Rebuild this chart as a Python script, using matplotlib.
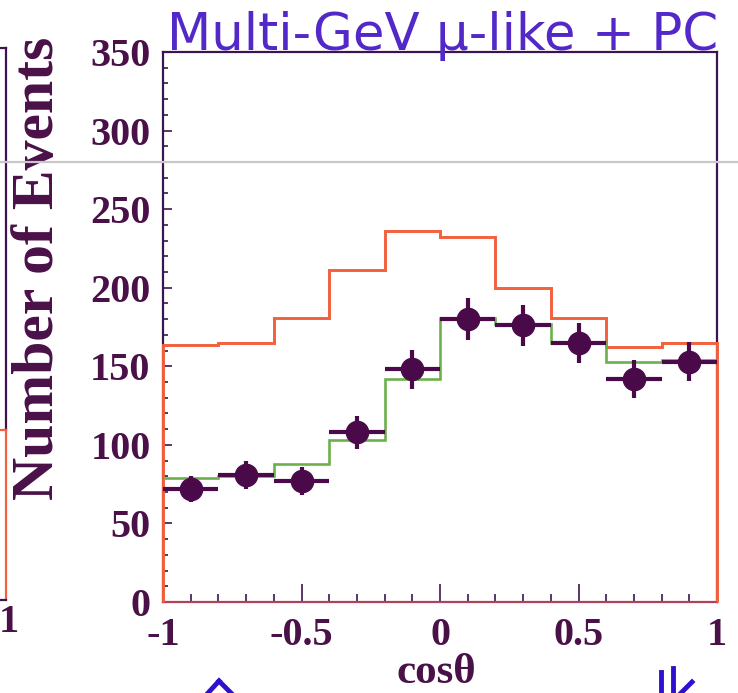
import numpy as np
import matplotlib
matplotlib.use("Agg")
import matplotlib.pyplot as plt
from matplotlib.lines import Line2D
from matplotlib.ticker import MultipleLocator

# zenith angle bins (cos theta) and event counts
edges = np.linspace(-1, 1, 11)
centers = 0.5 * (edges[:-1] + edges[1:])
no_osc = [163.5, 165, 181, 211, 236, 232, 200, 180.5, 162, 165]
best_fit = [79, 80, 88, 103, 142, 181, 177, 165, 153, 154]
data = [72, 81, 77, 108, 148, 180, 176, 165, 142, 153]
yticks = [0, 50, 100, 150, 200, 250, 300, 350]
xticks = [-1, -0.5, 0, 0.5, 1]
xticklabels = ["-1", "-0.5", "0", "0.5", "1"]

W, H = 738, 693
frame = "#3c1450"
txt = "#4a1048"
serif = ["Liberation Serif", "DejaVu Serif"]

fig = plt.figure(figsize=(W / 100, H / 100), dpi=100)
fig.patch.set_facecolor("white")


def px(x, y):
    return x / W, 1 - y / H


l, t = px(163, 52)
r, b = px(717, 602)
ax = fig.add_axes([l, b, r - l, t - b])

ax.stairs(no_osc, edges, baseline=0, color="#f2603c", lw=2.1, zorder=3, clip_on=False)
ax.stairs(best_fit, edges, baseline=None, color="#6cb04c", lw=1.9, zorder=3)
ax.errorbar(centers, data, xerr=0.1, yerr=np.sqrt(data), fmt="o", color="#4a0a4a",
            ms=16, elinewidth=3, capsize=0, zorder=4)

ax.set_xlim(-1, 1)
ax.set_ylim(0, 350)
ax.set_xticks(xticks)
ax.set_xticklabels(xticklabels)
ax.set_yticks(yticks)
ax.xaxis.set_minor_locator(MultipleLocator(0.1))
ax.yaxis.set_minor_locator(MultipleLocator(10))
ax.tick_params(axis="x", which="major", direction="in", length=13, width=1.2, color=frame, pad=11)
ax.tick_params(axis="x", which="minor", direction="in", length=6, width=1.2, color=frame)
ax.tick_params(axis="y", which="major", direction="in", length=6.5, width=1.2, color=frame, pad=9)
ax.tick_params(axis="y", which="minor", direction="in", length=3.6, width=1.2, color=frame)
for lab in ax.get_xticklabels() + ax.get_yticklabels():
    lab.set_fontfamily(serif)
    lab.set_fontweight("bold")
    lab.set_fontsize(29)
    lab.set_color(txt)
for side in ["top", "left", "right"]:
    ax.spines[side].set_color(frame)
    ax.spines[side].set_linewidth(1.6)
ax.spines["bottom"].set_color("#b0405c")
ax.spines["bottom"].set_linewidth(1.6)

# axis titles
fig.text(*px(436, 673), "cosθ", ha="center", va="center", family=serif,
         weight="bold", size=31, color=txt)
fig.text(*px(39, 268), "Number of Events", ha="center", va="center", rotation=90,
         family=serif, weight="bold", size=43, color=txt)
fig.text(*px(443, 50), "Multi-GeV μ-like + PC", ha="center", va="baseline",
         family=["DejaVu Sans"], size=37, color="#5228c8")

# edge of the neighbouring panel
lines = [
    ([0, 6], [48, 48], frame), ([6, 6], [48, 430], frame),
    ([0, 6], [430, 430], "#f2603c"), ([6, 6], [430, 600], "#f2603c"),
    ([0, 6], [600, 600], frame),
    # faint scan line
    ([0, W], [162, 162], "#c8c8c8"),
    # blue marks below the frame
    ([208, 219], [693, 681], "#3010d0"), ([219, 231], [681, 693], "#3010d0"),
    ([661, 661], [672, 693], "#3010d0"), ([673, 673], [668, 693], "#3010d0"),
    ([681, 692], [693, 682], "#3010d0"),
]
for xs, ys, c in lines:
    fig.add_artist(Line2D([x / W for x in xs], [1 - y / H for y in ys], color=c,
                          lw=1.6 if c != "#3010d0" else 3.5, zorder=10))
fig.text(*px(9, 622), "1", ha="center", va="center", family=serif, weight="bold",
         size=29, color=txt)

fig.savefig("out.png", dpi=100)
